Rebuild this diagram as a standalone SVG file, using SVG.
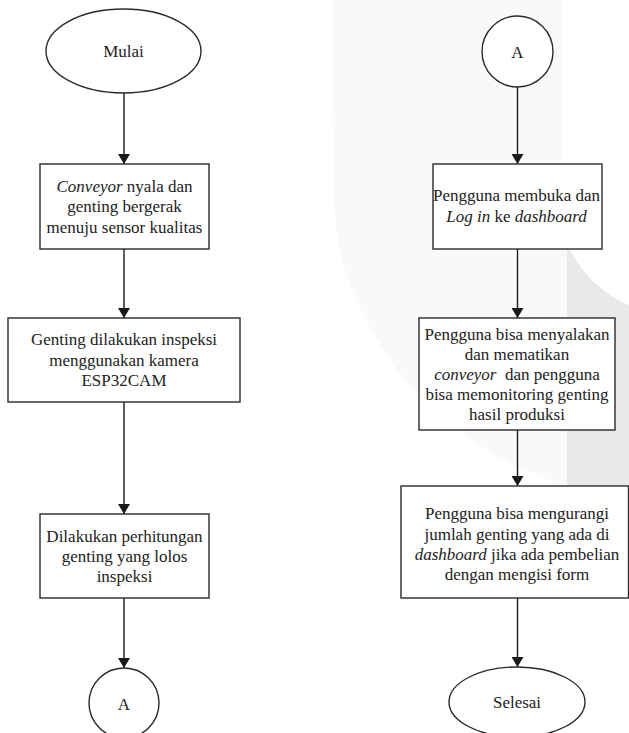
<svg xmlns="http://www.w3.org/2000/svg" width="629" height="733" viewBox="0 0 629 733">
<style>
.bg{fill:#ffffff}
.wm1{fill:#f9f9f9}
.wm2{fill:#e9e9eb}
.shape{fill:#ffffff;stroke:#2a2a2a;stroke-width:1.4}
.edge{fill:none;stroke:#1a1a1a;stroke-width:1.4}
text{font-family:"Liberation Serif","Times New Roman",serif;font-size:17px;fill:#222222;text-anchor:middle}
.it{font-style:italic}
</style>
<defs>
<marker id="arrow" viewBox="0 0 10 12" refX="10" refY="6" markerWidth="10" markerHeight="12" markerUnits="userSpaceOnUse" orient="auto">
<path d="M0,0 L10,6 L0,12 Z" fill="#1a1a1a"/>
</marker>
</defs>
<rect class="bg" x="0" y="0" width="629" height="733"/>
<g id="watermark">
<path class="wm1" d="M332,0 L629,0 L629,490 L567,486 C520,470 450,440 397,370 C370,330 345,290 336,230 C333,180 332,100 332,0 Z"/>
<path class="bg" d="M562,0 L629,0 L629,305 C598,292 568,265 562,215 Z"/>
<path class="wm2" d="M567,246 C584,276 604,295 629,305 L629,598 L567,598 Z"/>
</g>
<g id="connectors">
<path class="edge" d="M124,93 L124,164" marker-end="url(#arrow)"/>
<path class="edge" d="M124,249 L124,318" marker-end="url(#arrow)"/>
<path class="edge" d="M124,402 L124,514" marker-end="url(#arrow)"/>
<path class="edge" d="M124,598 L124,668" marker-end="url(#arrow)"/>
<path class="edge" d="M517.5,87 L517.5,164" marker-end="url(#arrow)"/>
<path class="edge" d="M517.5,249 L517.5,318" marker-end="url(#arrow)"/>
<path class="edge" d="M517.5,430 L517.5,486" marker-end="url(#arrow)"/>
<path class="edge" d="M517.5,598 L517.5,667" marker-end="url(#arrow)"/>
</g>
<g id="mulai">
<ellipse class="shape" cx="123.5" cy="51" rx="77.5" ry="42"/>
<text x="123.5" y="57">Mulai</text>
</g>
<g id="conveyor-nyala">
<rect class="shape" x="40" y="164" width="169" height="85"/>
<text x="124.5" y="191.5"><tspan class="it">Conveyor</tspan> nyala dan</text>
<text x="124.5" y="212">genting bergerak</text>
<text x="124.5" y="232.5">menuju sensor kualitas</text>
</g>
<g id="inspeksi">
<rect class="shape" x="8" y="318" width="232" height="84"/>
<text x="124" y="345">Genting dilakukan inspeksi</text>
<text x="124" y="365.5">menggunakan kamera</text>
<text x="124" y="386">ESP32CAM</text>
</g>
<g id="perhitungan">
<rect class="shape" x="40" y="514" width="169" height="84"/>
<text x="124.5" y="542">Dilakukan perhitungan</text>
<text x="124.5" y="562">genting yang lolos</text>
<text x="124.5" y="582">inspeksi</text>
</g>
<g id="konektor-a-keluar">
<circle class="shape" cx="124" cy="703" r="35"/>
<text x="124" y="709.5">A</text>
</g>
<g id="konektor-a-masuk">
<circle class="shape" cx="517.5" cy="51.5" r="35.5"/>
<text x="517.5" y="57.5">A</text>
</g>
<g id="login">
<rect class="shape" x="433" y="164" width="169" height="85"/>
<text x="516.5" y="201">Pengguna membuka dan</text>
<text x="516.5" y="221.5"><tspan class="it">Log in</tspan> ke <tspan class="it">dashboard</tspan></text>
</g>
<g id="kontrol-conveyor">
<rect class="shape" x="419" y="318" width="196" height="112"/>
<text x="517" y="340">Pengguna bisa menyalakan</text>
<text x="517" y="360">dan mematikan</text>
<text x="517" y="380" xml:space="preserve"><tspan class="it">conveyor</tspan>  dan pengguna</text>
<text x="517" y="400">bisa memonitoring genting</text>
<text x="517" y="420">hasil produksi</text>
</g>
<g id="kurangi-jumlah">
<rect class="shape" x="401" y="486" width="227.5" height="112"/>
<text x="517" y="519">Pengguna bisa mengurangi</text>
<text x="517" y="539.5">jumlah genting yang ada di</text>
<text x="517" y="559.5"><tspan class="it">dashboard</tspan> jika ada pembelian</text>
<text x="517" y="579.5">dengan mengisi form</text>
</g>
<g id="selesai">
<ellipse class="shape" cx="517" cy="702" rx="68" ry="35"/>
<text x="517" y="707.5">Selesai</text>
</g>
</svg>
